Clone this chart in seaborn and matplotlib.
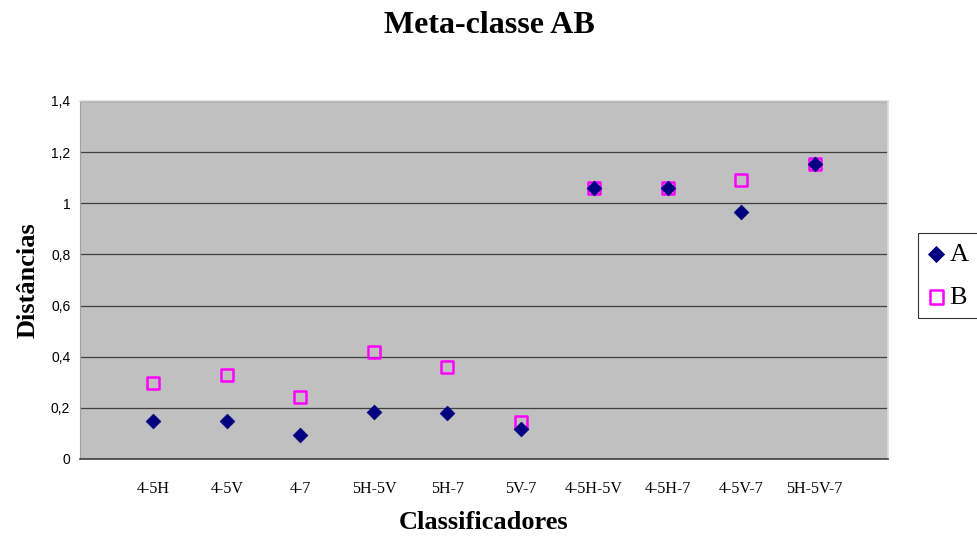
import pandas as pd
import seaborn as sns
import matplotlib.pyplot as plt
from matplotlib.ticker import FuncFormatter

classificadores = ['4-5H', '4-5V', '4-7', '5H-5V', '5H-7', '5V-7',
                   '4-5H-5V', '4-5H-7', '4-5V-7', '5H-5V-7']
dist_a = [0.148, 0.148, 0.093, 0.182, 0.180, 0.118, 1.058, 1.058, 0.965, 1.153]
dist_b = [0.296, 0.327, 0.241, 0.420, 0.358, 0.145, 1.058, 1.058, 1.090, 1.153]

df = pd.DataFrame({'classificador': classificadores, 'A': dist_a, 'B': dist_b})

sns.set_style('white')
plt.rcParams['font.family'] = ['Liberation Serif', 'DejaVu Serif']
plt.rcParams['text.color'] = 'black'
plt.rcParams['axes.labelcolor'] = 'black'
plt.rcParams['xtick.color'] = 'black'
plt.rcParams['ytick.color'] = 'black'

fig = plt.figure(figsize=(9.78, 5.38), dpi=100)
ax = fig.add_axes([80 / 978, 79 / 538, 808 / 978, 358 / 538])
ax.set_facecolor('#C0C0C0')

sns.scatterplot(data=df, x='classificador', y='B', marker='s', s=75,
                facecolor='none', edgecolor='#FF00FF', linewidth=1.8,
                label='B', ax=ax, zorder=3)
sns.scatterplot(data=df, x='classificador', y='A', marker='D', s=55,
                color='#000080', edgecolor='#000080', label='A', ax=ax, zorder=4)

ax.set_ylim(0, 1.4)
ax.set_xlim(-1, 10)
ax.set_yticks([0, 0.2, 0.4, 0.6, 0.8, 1.0, 1.2, 1.4])
ax.yaxis.set_major_formatter(FuncFormatter(lambda v, p: f'{v:g}'.replace('.', ',')))
for lab in ax.get_yticklabels():
    lab.set_fontfamily('Liberation Sans')
    lab.set_fontsize(10)
ax.set_xticks(range(-1, len(classificadores) + 1))
ax.set_xticklabels([''] + classificadores + [''], fontsize=11.5)
ax.tick_params(axis='x', direction='out', length=4, width=0.8, pad=12)
ax.tick_params(axis='y', direction='out', length=4, width=0.8, pad=3)
ax.grid(axis='y', color='#404040', linewidth=0.9)
ax.set_axisbelow(True)

for side in ['top', 'right']:
    ax.spines[side].set_color('#DDDDDD')
    ax.spines[side].set_linewidth(1.2)
ax.spines['left'].set_color('#A0A0A0')
ax.spines['bottom'].set_color('#404040')
ax.spines['bottom'].set_linewidth(1.2)

ax.set_xlabel('Classificadores', fontsize=19, fontweight='bold', labelpad=10)
ax.set_ylabel('Distâncias', fontsize=19, fontweight='bold', labelpad=8)
fig.suptitle('Meta-classe AB', fontsize=23, fontweight='bold', y=0.98)

handles, labels = ax.get_legend_handles_labels()
leg = ax.legend(handles[::-1], labels[::-1], loc='upper left',
                bbox_to_anchor=(918 / 978, (538 - 233) / 538), bbox_transform=fig.transFigure,
                borderaxespad=0, frameon=True, fancybox=False, edgecolor='black',
                fontsize=19, handletextpad=0.15, borderpad=0.35, labelspacing=0.75,
                handlelength=0.7, markerscale=1.1)
leg.get_frame().set_linewidth(0.8)

fig.savefig('out.png', dpi=100)
